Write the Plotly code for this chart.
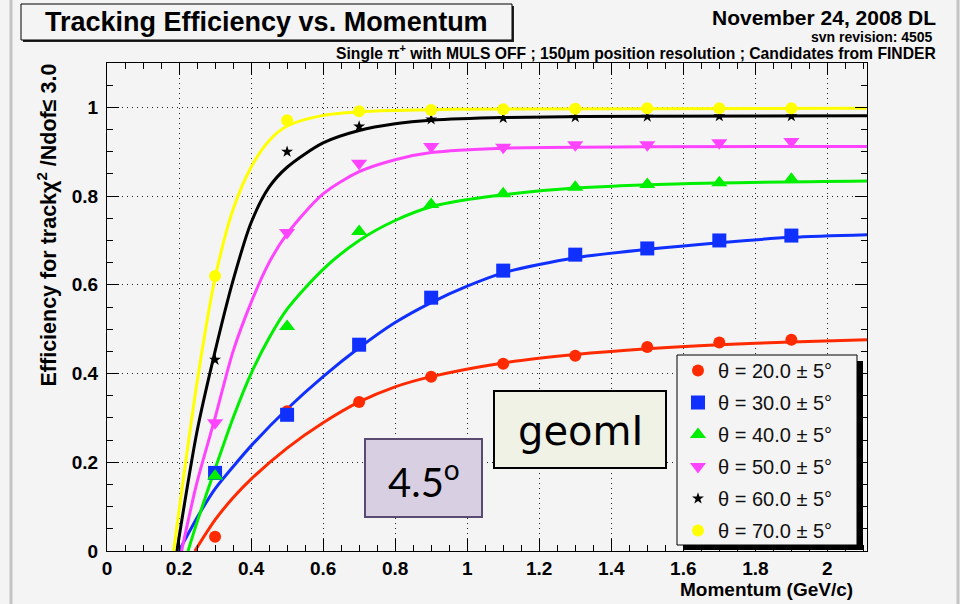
import plotly.graph_objects as go

# ---------------- data ----------------
labels = ["θ = 20.0 ± 5°", "θ = 30.0 ± 5°", "θ = 40.0 ± 5°",
          "θ = 50.0 ± 5°", "θ = 60.0 ± 5°", "θ = 70.0 ± 5°"]

# measured points
p20_x = [0.3, 0.5, 0.7, 0.9, 1.1, 1.3, 1.5, 1.7, 1.9]
p20_y = [0.032, 0.315, 0.336, 0.393, 0.422, 0.440, 0.460, 0.470, 0.476]
p_x = [0.3, 0.5, 0.7, 0.9, 1.1, 1.3, 1.5, 1.7, 1.9]
p30_y = [0.176, 0.307, 0.465, 0.571, 0.632, 0.668, 0.682, 0.700, 0.711]
p40_y = [0.169, 0.506, 0.720, 0.781, 0.805, 0.820, 0.826, 0.830, 0.838]
p50_y = [0.289, 0.718, 0.874, 0.912, 0.910, 0.916, 0.916, 0.920, 0.923]
p60_y = [0.431, 0.900, 0.957, 0.973, 0.976, 0.978, 0.979, 0.980, 0.980]
p70_y = [0.620, 0.971, 0.991, 0.994, 0.996, 0.997, 0.998, 0.998, 0.998]

# fitted curves
f20_x = [0.244, 0.3, 0.35, 0.4, 0.5, 0.6, 0.7, 0.8, 0.9, 1.1, 1.3, 1.5, 1.7, 1.9, 2.11]
f20_y = [0.0, 0.07, 0.12, 0.162, 0.232, 0.289, 0.336, 0.370, 0.393, 0.424, 0.443, 0.456, 0.465, 0.471, 0.476]
f30_x = [0.2, 0.25, 0.3, 0.35, 0.4, 0.5, 0.6, 0.7, 0.8, 0.9, 1.0, 1.1, 1.3, 1.5, 1.7, 1.9, 2.11]
f30_y = [0.0, 0.075, 0.14, 0.19, 0.237, 0.32, 0.393, 0.458, 0.515, 0.560, 0.597, 0.627, 0.661, 0.680, 0.695, 0.707, 0.713]
f40_x = [0.225, 0.25, 0.3, 0.35, 0.4, 0.45, 0.5, 0.6, 0.7, 0.8, 0.9, 1.0, 1.1, 1.3, 1.6, 2.11]
f40_y = [0.0, 0.065, 0.185, 0.30, 0.40, 0.48, 0.545, 0.635, 0.70, 0.745, 0.776, 0.792, 0.803, 0.818, 0.828, 0.834]
f50_x = [0.207, 0.25, 0.3, 0.35, 0.4, 0.45, 0.5, 0.6, 0.7, 0.8, 0.9, 1.1, 1.5, 2.11]
f50_y = [0.0, 0.155, 0.30, 0.45, 0.56, 0.65, 0.715, 0.805, 0.855, 0.882, 0.898, 0.908, 0.911, 0.912]
f60_x = [0.194, 0.25, 0.3, 0.35, 0.4, 0.45, 0.5, 0.6, 0.7, 0.8, 0.9, 1.1, 1.5, 2.11]
f60_y = [0.0, 0.27, 0.45, 0.61, 0.74, 0.82, 0.865, 0.92, 0.948, 0.963, 0.971, 0.977, 0.980, 0.981]
f70_x = [0.185, 0.25, 0.3, 0.35, 0.4, 0.45, 0.5, 0.6, 0.7, 0.8, 1.0, 2.11]
f70_y = [0.0, 0.38, 0.615, 0.77, 0.865, 0.925, 0.958, 0.982, 0.990, 0.993, 0.996, 0.998]

colors = ["#ff2a00", "#1030ff", "#00ee00", "#ff44ff", "#000000", "#ffff00"]
symbols = ["circle", "square", "triangle-up", "triangle-down", "star", "circle"]
msizes = [12, 14, 14, 14, 9, 12]

fits = [(f20_x, f20_y), (f30_x, f30_y), (f40_x, f40_y),
        (f50_x, f50_y), (f60_x, f60_y), (f70_x, f70_y)]
pts = [(p20_x, p20_y), (p_x, p30_y), (p_x, p40_y),
       (p_x, p50_y), (p_x, p60_y), (p_x, p70_y)]

# ---------------- geometry helpers (pixel -> paper) ----------------
L, R, T, B = 107, 867, 63, 551
def px(x):
    return (x - L) / (R - L)
def py(y):
    return (B - y) / (B - T)

BG = "#f4f4f4"
fig = go.Figure()

for i in range(6):
    fx, fy = fits[i]
    fig.add_trace(go.Scatter(x=fx, y=fy, mode="lines",
                             line=dict(color=colors[i], width=3, shape="spline", smoothing=0.8),
                             showlegend=False, hoverinfo="skip"))
for i in range(6):
    ptx, pty = pts[i]
    fig.add_trace(go.Scatter(x=ptx, y=pty, mode="markers", name=labels[i],
                             legendgroup="g%d" % i,
                             marker=dict(color=colors[i], symbol=symbols[i], size=msizes[i],
                                         line=dict(width=0))))

axis_font = dict(family="Liberation Sans, Arial", size=19, color="black", weight="bold")
common = dict(showline=True, linecolor="black", linewidth=1, mirror="ticks",
              ticks="inside", ticklen=12, tickcolor="black", tickwidth=1,
              showgrid=True, gridcolor="#222222", gridwidth=1, griddash="1px,4px",
              zeroline=False, tickfont=axis_font,
              minor=dict(ticks="inside", ticklen=6, tickcolor="black", dtick=0.05, showgrid=False))

fig.update_xaxes(range=[0, 2.11], dtick=0.2, tick0=0, **common)
fig.update_yaxes(range=[0, 1.1], dtick=0.2, tick0=0, ticklabelstandoff=4, **common)

shapes = []
# page side borders
shapes.append(dict(type="line", xref="paper", yref="paper", x0=px(11), x1=px(11), y0=py(604), y1=py(0),
                   line=dict(color="#c4c4c4", width=3)))
shapes.append(dict(type="line", xref="paper", yref="paper", x0=px(958), x1=px(958), y0=py(604), y1=py(0),
                   line=dict(color="#c4c4c4", width=3)))
# title box with shadow
shapes.append(dict(type="rect", xref="paper", yref="paper", x0=px(23), x1=px(514), y0=py(42), y1=py(6),
                   fillcolor="#222222", line=dict(width=0), layer="above"))
shapes.append(dict(type="rect", xref="paper", yref="paper", x0=px(21), x1=px(512), y0=py(40), y1=py(4),
                   fillcolor=BG, line=dict(color="black", width=1), layer="above"))
# legend box with shadow
shapes.append(dict(type="rect", xref="paper", yref="paper", x0=px(683), x1=px(863), y0=py(550), y1=py(361),
                   fillcolor="black", line=dict(width=0), layer="above"))
shapes.append(dict(type="rect", xref="paper", yref="paper", x0=px(677), x1=px(857), y0=py(545), y1=py(355),
                   fillcolor=BG, line=dict(color="black", width=1), layer="above"))
# 4.5 deg box
shapes.append(dict(type="rect", xref="paper", yref="paper", x0=px(365), x1=px(482), y0=py(517), y1=py(439),
                   fillcolor="#d8d0e2", line=dict(color="#584a70", width=2), layer="above"))
# geomI box
shapes.append(dict(type="rect", xref="paper", yref="paper", x0=px(494), x1=px(666), y0=py(468), y1=py(391),
                   fillcolor="#eff2e4", line=dict(color="black", width=2), layer="above"))

bold = dict(family="Liberation Sans, Arial", color="black", weight="bold")
ann = []
ann.append(dict(text="Tracking Efficiency vs. Momentum", x=px(266.5), y=py(22), xref="paper", yref="paper",
                showarrow=False, xanchor="center", yanchor="middle", font=dict(size=27, **bold)))
ann.append(dict(text="November 24, 2008 DL", x=px(938), y=py(17), xref="paper", yref="paper",
                showarrow=False, xanchor="right", yanchor="middle", font=dict(size=21, **bold)))
ann.append(dict(text="svn revision: 4505", x=px(935), y=py(37), xref="paper", yref="paper",
                showarrow=False, xanchor="right", yanchor="middle", font=dict(size=14, **bold)))
ann.append(dict(text="Single π<sup>+</sup> with MULS OFF ; 150μm position resolution ; Candidates from FINDER",
                x=px(938), y=py(52), xref="paper", yref="paper",
                showarrow=False, xanchor="right", yanchor="middle", font=dict(size=15.7, **bold)))
ann.append(dict(text="Efficiency for trackχ<sup>2</sup> /Ndof≤ 3.0", x=px(46), y=py(62), xref="paper", yref="paper",
                showarrow=False, xanchor="center", yanchor="top", textangle=-90, font=dict(size=21.5, **bold)))
ann.append(dict(text="Momentum (GeV/c)", x=px(855), y=py(589), xref="paper", yref="paper",
                showarrow=False, xanchor="right", yanchor="middle", font=dict(size=19, **bold)))
ann.append(dict(text="4.5<sup>o</sup>", x=px(423.5), y=py(479), xref="paper", yref="paper",
                showarrow=False, xanchor="center", yanchor="middle",
                font=dict(family="Lato, Open Sans", size=40, color="black")))
ann.append(dict(text="geomI", x=px(580), y=py(431), xref="paper", yref="paper",
                showarrow=False, xanchor="center", yanchor="middle",
                font=dict(family="DejaVu Sans", size=40, color="black")))

fig.update_layout(
    width=960, height=604,
    margin=dict(l=L, r=960 - R, t=T, b=604 - B),
    paper_bgcolor=BG, plot_bgcolor=BG,
    shapes=shapes, annotations=ann,
    legend=dict(x=px(678), y=py(351), xanchor="left", yanchor="top",
                bgcolor="rgba(0,0,0,0)", borderwidth=0, tracegroupgap=3,
                font=dict(family="Liberation Sans, Arial", size=20, color="#111111")),
    showlegend=True,
)

fig.write_html("out.html")
